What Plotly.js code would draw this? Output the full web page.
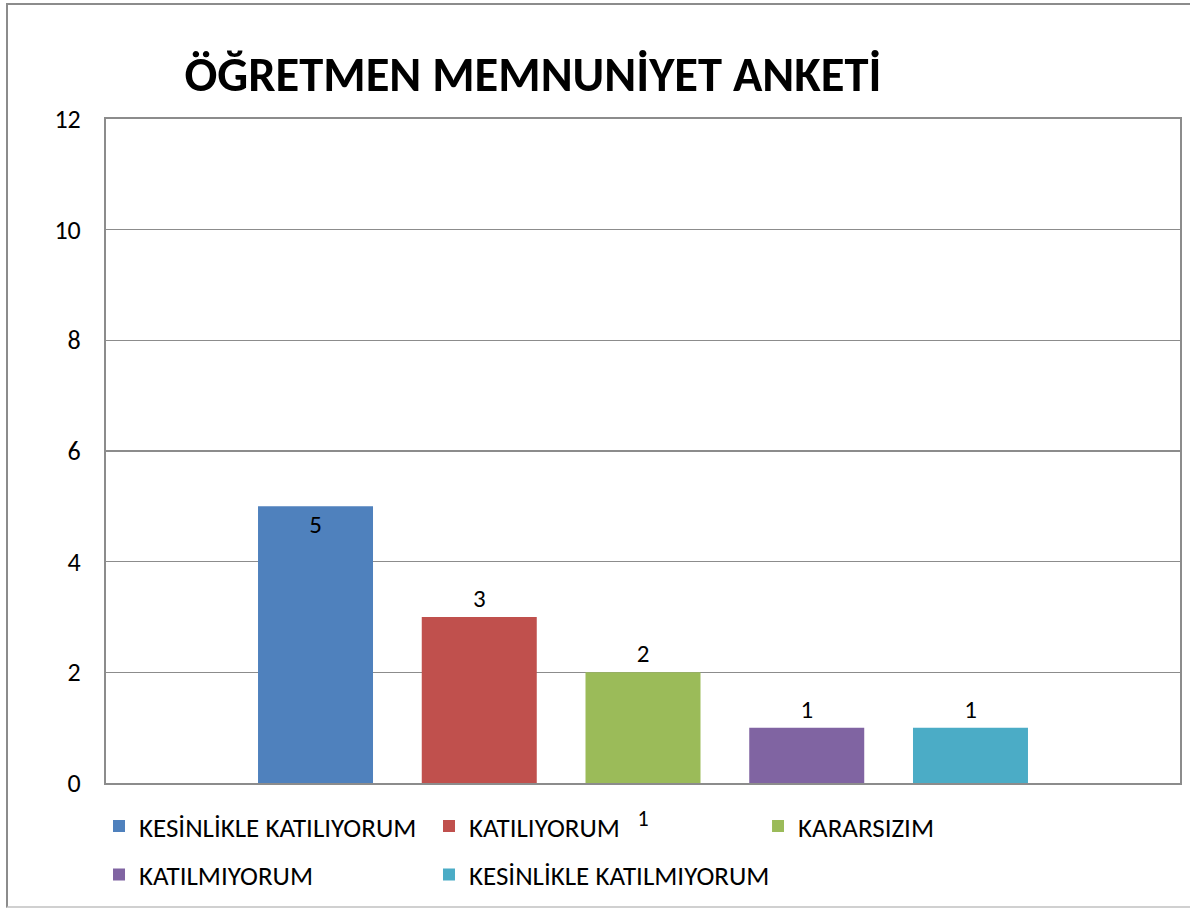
<!DOCTYPE html>
<html>
<head>
<meta charset="utf-8">
<script src="https://cdn.plot.ly/plotly-3.0.1.min.js"></script>
<style>
  html, body { margin: 0; padding: 0; background: #ffffff; }
  #wrap { position: relative; width: 1190px; height: 911px; overflow: hidden; }
  #chart { position: absolute; left: 0; top: 0; width: 1190px; height: 911px; }
  #frame { position: absolute; left: 6px; top: 3px; width: 1200px; height: 905px;
           border-left: 2px solid #8c8c8c; border-top: 2px solid #8c8c8c; border-bottom: 2px solid #d0d0d0;
           pointer-events: none; box-sizing: border-box; }
</style>
</head>
<body>
<div id="wrap"><div id="chart"></div><div id="frame"></div></div>
<script>
// ---- data ----
var chartTitle = "ÖĞRETMEN MEMNUNİYET ANKETİ";
var categories = ["1"];
var seriesNames = ["KESİNLİKLE KATILIYORUM", "KATILIYORUM", "KARARSIZIM", "KATILMIYORUM", "KESİNLİKLE KATILMIYORUM"];
var seriesValues = [[5], [3], [2], [1], [1]];
var seriesColors = ["#4F81BD", "#C0504D", "#9BBB59", "#8064A2", "#4BACC6"];
var yTickValues = [0, 2, 4, 6, 8, 10, 12];

// ---- styling ----
var FONT = "Calibri, Carlito, sans-serif";
var legendIds = ["legend", "legend2", "legend3", "legend4", "legend5"];
// legend placement (container fractions): [x, y]
var legendPos = [[0.0832, 0.0928], [0.3605, 0.0928], [0.637, 0.0928], [0.0832, 0.0395], [0.3605, 0.0395]];
var labelPos = ["inside", "outside", "outside", "outside", "outside"];

var traces = seriesNames.map(function (name, i) {
  return {
    type: "bar",
    name: name,
    x: categories,
    y: seriesValues[i],
    text: seriesValues[i].map(String),
    textposition: labelPos[i],
    insidetextanchor: "end",
    textfont: { family: FONT, size: 25, color: "#000000" },
    insidetextfont: { family: FONT, size: 25, color: "#000000" },
    outsidetextfont: { family: FONT, size: 25, color: "#000000" },
    cliponaxis: false,
    marker: { color: seriesColors[i], line: { width: 0 } },
    legend: legendIds[i],
    hoverinfo: "name+y"
  };
});

var layout = {
  width: 1190,
  height: 911,
  paper_bgcolor: "#ffffff",
  plot_bgcolor: "#ffffff",
  font: { family: FONT, color: "#000000" },
  margin: { l: 106, r: 10, t: 119, b: 128, pad: 0, autoexpand: false },
  title: {
    text: "<b>" + chartTitle + "</b>",
    font: { family: FONT, size: 48.5, color: "#000000" },
    xref: "container", yref: "container",
    x: 0.4479, xanchor: "center",
    y: 0.9188, yanchor: "middle"
  },
  barmode: "group",
  bargap: 0.2377,
  bargroupgap: 0.2977,
  xaxis: {
    type: "category",
    showgrid: false,
    showline: true, linecolor: "#8c8c8c", linewidth: 2, mirror: true,
    ticks: "",
    ticklabelstandoff: 15,
    tickfont: { family: FONT, size: 22, color: "#000000" },
    zeroline: false,
    automargin: false,
    fixedrange: true
  },
  yaxis: {
    range: [0, 12],
    tickvals: yTickValues,
    ticktext: yTickValues.map(String),
    showgrid: true, gridcolor: "#8c8c8c", gridwidth: 1.5,
    showline: true, linecolor: "#8c8c8c", linewidth: 2, mirror: true,
    ticks: "",
    ticklabelstandoff: 18,
    tickfont: { family: FONT, size: 26, color: "#000000" },
    zeroline: false,
    automargin: false,
    fixedrange: true
  },
  showlegend: true
};

legendIds.forEach(function (id, i) {
  layout[id] = {
    xref: "container", yref: "container",
    x: legendPos[i][0], xanchor: "left",
    y: legendPos[i][1], yanchor: "middle",
    orientation: "v",
    bgcolor: "rgba(0,0,0,0)",
    borderwidth: 0,
    font: { family: FONT, size: 27, color: "#000000" }
  };
});

Plotly.newPlot("chart", traces, layout, { displayModeBar: false, staticPlot: true });
</script>
</body>
</html>
